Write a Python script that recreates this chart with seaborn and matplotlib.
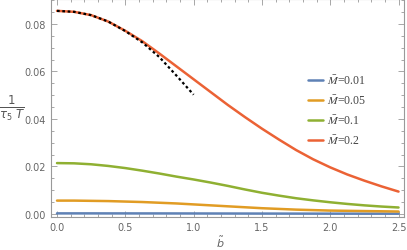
import numpy as np
import pandas as pd
import seaborn as sns
import matplotlib.pyplot as plt
from matplotlib.ticker import MultipleLocator

#### DATA ####

b = [0.0, 0.125, 0.25, 0.375, 0.5, 0.625, 0.75, 0.875, 1.0, 1.125, 1.25,
     1.375, 1.5, 1.625, 1.75, 1.875, 2.0, 2.125, 2.25, 2.375, 2.5]
m001 = [0.00022, 0.00022, 0.00022, 0.00021, 0.00021, 0.0002, 0.0002, 0.00019, 0.00018, 0.00017, 0.00016,
        0.00015, 0.00014, 0.00013, 0.00012, 0.00011, 0.0001, 0.0001, 0.00009, 0.00009, 0.00008]
m005 = [0.0056, 0.0056, 0.0055, 0.0054, 0.0052, 0.0050, 0.0047, 0.0044, 0.0040, 0.0036, 0.0032,
        0.0028, 0.0024, 0.0021, 0.0018, 0.0016, 0.0014, 0.0013, 0.0012, 0.0011, 0.0010]
m01 = [0.0214, 0.0213, 0.0209, 0.0202, 0.0193, 0.0182, 0.0170, 0.0157, 0.0145, 0.0132, 0.0118,
       0.0103, 0.0089, 0.0077, 0.0066, 0.0057, 0.0049, 0.0042, 0.0036, 0.0031, 0.0027]
m02 = [0.0855, 0.0851, 0.0837, 0.0810, 0.0771, 0.0727, 0.0675, 0.0621, 0.0567, 0.0513, 0.0459,
       0.0408, 0.0359, 0.0313, 0.0269, 0.0230, 0.0196, 0.0166, 0.0140, 0.0116, 0.0094]
labels = [r'$\bar{M}$=0.01', r'$\bar{M}$=0.05', r'$\bar{M}$=0.1', r'$\bar{M}$=0.2']

b_approx = [0.0, 0.125, 0.25, 0.375, 0.5, 0.625, 0.75, 0.875, 1.0]
approx = [0.0855, 0.0851, 0.0837, 0.0810, 0.0770, 0.0722, 0.0660, 0.0582, 0.0502]

colors = ['#5E81B5', '#E19C24', '#8FB032', '#EB6235']

df = pd.DataFrame({'b': b * 4,
                   'val': m001 + m005 + m01 + m02,
                   'M': sum([[l] * len(b) for l in labels], [])})

#### PLOT ####

sns.set_style('ticks')
plt.rcParams['mathtext.fontset'] = 'dejavusans'

fig = plt.figure(figsize=(4.07, 2.51), dpi=100)
ax = fig.add_axes([0.1253, 0.1315, 0.8673, 0.8685])

sns.lineplot(data=df, x='b', y='val', hue='M', palette=colors, linewidth=1.8, ax=ax)
sns.lineplot(x=b_approx, y=approx, color='black', linestyle=(0, (1.2, 1.2)), linewidth=1.6, ax=ax)

ax.set_xlim(-0.044, 2.54)
ax.set_ylim(-0.0013, 0.0905)
ax.xaxis.set_major_locator(MultipleLocator(0.5))
ax.xaxis.set_minor_locator(MultipleLocator(0.1))
ax.yaxis.set_major_locator(MultipleLocator(0.02))
ax.yaxis.set_minor_locator(MultipleLocator(0.005))
ax.yaxis.set_major_formatter(plt.FuncFormatter(lambda v, p: f'{v:.2f}'))
ax.xaxis.set_major_formatter(plt.FuncFormatter(lambda v, p: f'{v:.1f}'))
ax.tick_params(which='both', direction='in', top=True, right=True, colors='#999999',
               labelcolor='#666666', labelsize=7, width=0.6)
ax.tick_params(which='major', length=4)
ax.tick_params(which='minor', length=2)
for s in ax.spines.values():
    s.set_color('#999999')
    s.set_linewidth(0.8)

ax.set_xlabel('')
ax.set_ylabel('')
fig.text(0.54, 0.036, r'$\tilde{b}$', color='#666666', fontsize=8, ha='center', va='center')
fig.text(0.03, 0.57, r'$\frac{1}{\tau_5\ T}$', color='#555555', fontsize=12, ha='center', va='center')

leg = ax.legend(loc='center left', bbox_to_anchor=(0.714, 0.49), borderaxespad=0, frameon=False,
                handlelength=1.25, handletextpad=0.4, labelspacing=0.58,
                prop={'family': 'Liberation Serif', 'size': 8.5, 'math_fontfamily': 'stix'})
for t in leg.get_texts():
    t.set_color('#444444')

plt.savefig('out.png', dpi=100)
plt.close()
